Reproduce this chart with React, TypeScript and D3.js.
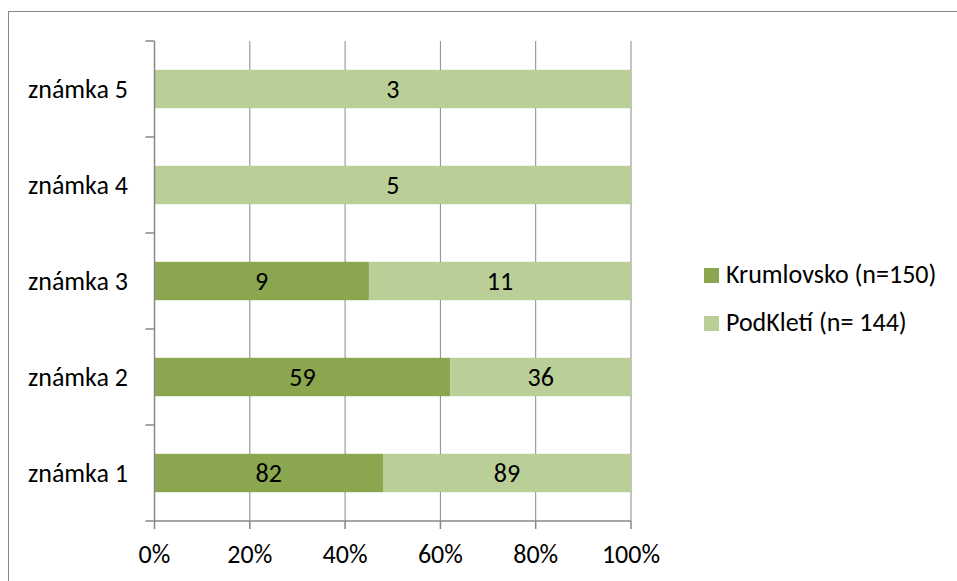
import React from "react";
import * as d3 from "d3";

const categories = ["známka 1", "známka 2", "známka 3", "známka 4", "známka 5"];
const krumlovsko = [82, 59, 9, 0, 0];
const podkleti = [89, 36, 11, 5, 3];
const seriesNames = ["Krumlovsko (n=150)", "PodKletí (n= 144)"];
const xTicks = [0, 0.2, 0.4, 0.6, 0.8, 1];

const W = 957;
const H = 581;
const colors = ["#8AA64E", "#BACF97"];
const axisColor = "#888888";
const font = "Carlito, Calibri, Lato, 'Open Sans', sans-serif";
const fs = 26;

export default function App() {
  const left = 154.5;
  const right = 631;
  const top = 41;
  const bottom = 521;
  const x = d3.scaleLinear().domain([0, 1]).range([left, right]);
  const y = d3
    .scaleBand<string>()
    .domain([...categories].reverse())
    .range([top, bottom])
    .paddingInner(0.6)
    .paddingOuter(0.3);
  const bandStep = (bottom - top) / categories.length;
  const boundaries = d3.range(categories.length + 1).map((i) => top + i * bandStep);

  const rows = categories.map((c, i) => {
    const total = krumlovsko[i] + podkleti[i];
    return { c, vals: [krumlovsko[i], podkleti[i]], total };
  });

  return (
    <svg
      width={W}
      height={H}
      style={{ position: "absolute", left: 0, top: 0, background: "#fff" }}
    >
      <rect x={8.5} y={11.5} width={W + 10} height={H + 10} fill="#fff" stroke={axisColor} strokeWidth={1} />
      {/* gridlines */}
      {xTicks.slice(1).map((t) => (
        <line key={t} x1={x(t)} x2={x(t)} y1={top} y2={bottom} stroke={axisColor} strokeWidth={1} />
      ))}
      {/* bars */}
      {rows.map((r) => {
        let acc = 0;
        return r.vals.map((v, si) => {
          const x0 = acc / r.total;
          acc += v;
          const x1 = acc / r.total;
          if (v === 0) return null;
          const bx = x(x0);
          const bw = x(x1) - x(x0);
          const by = y(r.c)!;
          const bh = y.bandwidth();
          return (
            <g key={r.c + si}>
              <rect x={bx} y={by} width={bw} height={bh} fill={colors[si]} />
              <text
                x={bx + bw / 2}
                y={by + bh / 2 + 9}
                textAnchor="middle"
                fontFamily={font}
                fontSize={fs}
                fill="#000"
              >
                {v}
              </text>
            </g>
          );
        });
      })}
      {/* y axis */}
      <line x1={left} x2={left} y1={top} y2={bottom} stroke={axisColor} strokeWidth={1.5} />
      {boundaries.map((b, i) => (
        <line key={i} x1={left - 9} x2={left} y1={b} y2={b} stroke={axisColor} strokeWidth={1.5} />
      ))}
      {categories.map((c) => (
        <text
          key={c}
          x={128}
          y={y(c)! + y.bandwidth() / 2 + 9}
          textAnchor="end"
          fontFamily={font}
          fontSize={fs}
          fill="#000"
        >
          {c}
        </text>
      ))}
      {/* x axis */}
      <line x1={left} x2={right} y1={bottom} y2={bottom} stroke={axisColor} strokeWidth={1.5} />
      {xTicks.map((t) => (
        <g key={t}>
          <line x1={x(t)} x2={x(t)} y1={bottom} y2={bottom + 8} stroke={axisColor} strokeWidth={1.5} />
          <text
            x={x(t)}
            y={563}
            textAnchor="middle"
            fontFamily={font}
            fontSize={fs}
            fill="#000"
          >
            {d3.format(".0%")(t)}
          </text>
        </g>
      ))}
      {/* legend */}
      {seriesNames.map((s, i) => (
        <g key={s}>
          <rect x={704} y={268 + i * 48} width={15} height={15} fill={colors[i]} />
          <text x={726} y={283 + i * 48} fontFamily={font} fontSize={fs} fill="#000">
            {s}
          </text>
        </g>
      ))}
    </svg>
  );
}
